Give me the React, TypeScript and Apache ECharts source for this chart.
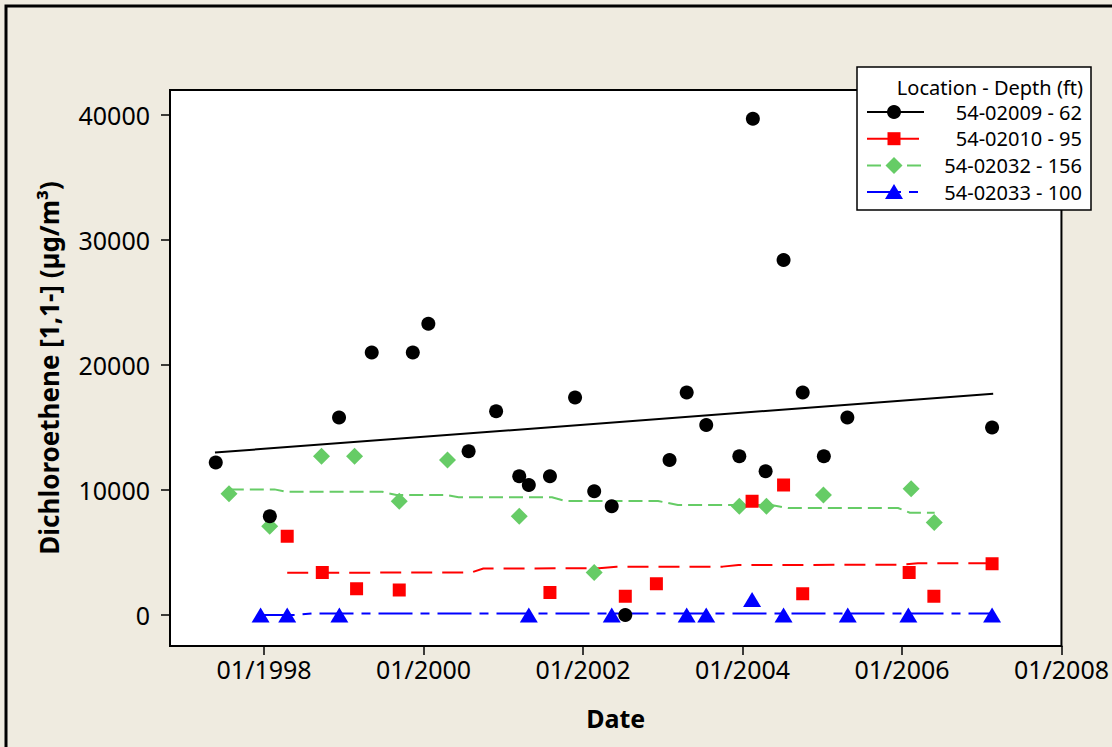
import React, { useEffect, useRef } from "react";
import * as echarts from "echarts";

// ---- Data (dates as decimal years, values in µg/m³) ----
const X_TICKS = [1998, 2000, 2002, 2004, 2006, 2008];
const Y_TICKS = [0, 10000, 20000, 30000, 40000];

const S62_NAME = "54-02009 - 62";
const S62_X = [1997.394, 1998.072, 1998.94, 1999.35, 1999.865, 2000.06, 2000.565, 2000.91, 2001.2, 2001.32, 2001.585, 2001.9, 2002.14, 2002.36, 2002.53, 2003.085, 2003.3, 2003.545, 2003.96, 2004.13, 2004.29, 2004.515, 2004.755, 2005.02, 2005.315, 2007.13];
const S62_Y = [12200, 7900, 15800, 21000, 21000, 23300, 13100, 16300, 11100, 10400, 11100, 17400, 9900, 8700, 0, 12400, 17800, 15200, 12700, 39700, 11500, 28400, 17800, 12700, 15800, 15000];
const S62_FIT_X = [1997.384, 2007.144];
const S62_FIT_Y = [13000, 17700];

const S95_NAME = "54-02010 - 95";
const S95_X = [1998.29, 1998.73, 1999.16, 1999.695, 2001.585, 2002.53, 2002.92, 2004.12, 2004.515, 2004.755, 2006.09, 2006.4, 2007.13];
const S95_Y = [6300, 3400, 2100, 2000, 1800, 1500, 2500, 9100, 10400, 1700, 3400, 1500, 4100];
const S95_FIT_X = [1998.29, 2000.6, 2000.75, 2002.2, 2002.42, 2003.75, 2003.95, 2006.0, 2006.2, 2007.13];
const S95_FIT_Y = [3380, 3400, 3720, 3740, 3860, 3870, 4000, 4020, 4140, 4150];

const S156_NAME = "54-02032 - 156";
const S156_X = [1997.56, 1998.07, 1998.72, 1999.135, 1999.695, 2000.3, 2001.2, 2002.14, 2003.96, 2004.3, 2005.015, 2006.115, 2006.405];
const S156_Y = [9700, 7100, 12700, 12700, 9100, 12400, 7900, 3400, 8700, 8700, 9600, 10100, 7400];
const S156_FIT_X = [1997.57, 1998.13, 1998.28, 1999.48, 1999.66, 2000.28, 2000.44, 2001.61, 2001.78, 2002.94, 2003.19, 2004.36, 2004.57, 2005.95, 2006.1, 2006.41];
const S156_FIT_Y = [10050, 10050, 9860, 9860, 9600, 9600, 9420, 9420, 9120, 9120, 8800, 8800, 8560, 8560, 8180, 8180];

const S100_NAME = "54-02033 - 100";
const S100_X = [1997.956, 1998.29, 1998.944, 2001.32, 2002.36, 2003.3, 2003.545, 2004.12, 2004.515, 2005.32, 2006.08, 2007.13];
const S100_Y = [0, 0, 0, 0, 0, 0, 0, 1250, 0, 0, 0, 0];
const S100_FIT_X = [1997.956, 1998.4, 1998.61, 2007.13];
const S100_FIT_Y = [0, 0, 130, 130];

const zip = (xs: number[], ys: number[]) => xs.map((x, i) => [x, ys[i]]);

const FONT = "Noto Sans";
const BLACK = "#000000";
const RED = "#FF0000";
const GREEN = "#66CC66";
const BLUE = "#0000FF";

const DASH_RED = [21, 10];
const DASH_GREEN = [14, 6];
const DASH_BLUE = [34, 8, 9, 8];

export default function App() {
  const ref = useRef<HTMLDivElement>(null);

  useEffect(() => {
    if (!ref.current) return;
    const chart = echarts.init(ref.current, null, { renderer: "svg" });

    const legendItems = [
      { name: S62_NAME, color: BLACK, dash: "solid" as any, kind: "circle" },
      { name: S95_NAME, color: RED, dash: DASH_RED, kind: "square" },
      { name: S156_NAME, color: GREEN, dash: DASH_GREEN, kind: "diamond" },
      { name: S100_NAME, color: BLUE, dash: DASH_BLUE, kind: "triangle" },
    ];
    const legendGraphics: any[] = [];
    const lx0 = 867, lx1 = 924, sx = 894, textRight = 1082;
    legendItems.forEach((it, i) => {
      const y = 112 + i * 26.7;
      legendGraphics.push({
        type: "line",
        shape: { x1: lx0, y1: y, x2: lx1, y2: y },
        style: { stroke: it.color, lineWidth: 2, lineDash: it.dash === "solid" ? null : it.dash },
        z: 101,
      });
      let sym: any;
      if (it.kind === "circle") {
        sym = { type: "circle", shape: { cx: sx, cy: y, r: 7 } };
      } else if (it.kind === "square") {
        sym = { type: "rect", shape: { x: sx - 6.5, y: y - 6.5, width: 13, height: 13 } };
      } else if (it.kind === "diamond") {
        sym = { type: "polygon", shape: { points: [[sx, y - 8.5], [sx + 8.5, y], [sx, y + 8.5], [sx - 8.5, y]] } };
      } else {
        sym = { type: "polygon", shape: { points: [[sx, y - 8], [sx + 9, y + 7], [sx - 9, y + 7]] } };
      }
      sym.style = { fill: it.color };
      sym.z = 102;
      legendGraphics.push(sym);
      legendGraphics.push({
        type: "text",
        x: textRight,
        y: y,
        style: { text: it.name, fill: "#000", font: `20px "${FONT}"`, align: "right", verticalAlign: "middle" },
        z: 102,
      });
    });

    const option: any = {
      animation: false,
      backgroundColor: "#EFEBE0",
      textStyle: { fontFamily: FONT },
      grid: {
        left: 170,
        top: 90,
        width: 894,
        height: 556,
        show: true,
        backgroundColor: "#FFFFFF",
        borderColor: "#000",
        borderWidth: 2,
        containLabel: false,
      },
      xAxis: {
        type: "value",
        min: 1996.82,
        max: 2008,
        name: "Date",
        nameLocation: "middle",
        nameGap: 59,
        nameTextStyle: { fontFamily: FONT, fontSize: 25, fontWeight: "bold", color: "#000" },
        axisLine: { show: true, onZero: false, lineStyle: { color: "#000", width: 2 } },
        axisTick: { show: true, inside: false, length: 9, customValues: X_TICKS, lineStyle: { color: "#000", width: 1.5 } },
        axisLabel: {
          customValues: X_TICKS,
          margin: 10,
          color: "#000",
          fontFamily: FONT,
          fontSize: 25,
          formatter: (v: number) => "01/" + Math.round(v),
        },
        splitLine: { show: false },
      },
      yAxis: {
        type: "value",
        min: -2480,
        max: 42000,
        name: "Dichloroethene [1,1-] (µg/m³)",
        nameLocation: "middle",
        nameGap: 108,
        nameRotate: 90,
        nameTextStyle: { fontFamily: FONT, fontSize: 26, fontWeight: "bold", color: "#000" },
        axisLine: { show: true, onZero: false, lineStyle: { color: "#000", width: 2 } },
        axisTick: { show: true, inside: false, length: 9, customValues: Y_TICKS, lineStyle: { color: "#000", width: 1.5 } },
        axisLabel: {
          customValues: Y_TICKS,
          margin: 20,
          color: "#000",
          fontFamily: FONT,
          fontSize: 25,
          formatter: (v: number) => String(Math.round(v)),
        },
        splitLine: { show: false },
      },
      series: [
        {
          name: S62_NAME + " fit",
          type: "line",
          data: zip(S62_FIT_X, S62_FIT_Y),
          showSymbol: false,
          lineStyle: { color: BLACK, width: 2, type: "solid" },
          z: 2,
        },
        {
          name: S95_NAME + " fit",
          type: "line",
          data: zip(S95_FIT_X, S95_FIT_Y),
          showSymbol: false,
          lineStyle: { color: RED, width: 2, type: DASH_RED },
          z: 2,
        },
        {
          name: S156_NAME + " fit",
          type: "line",
          data: zip(S156_FIT_X, S156_FIT_Y),
          showSymbol: false,
          lineStyle: { color: GREEN, width: 2, type: DASH_GREEN },
          z: 2,
        },
        {
          name: S100_NAME + " fit",
          type: "line",
          data: zip(S100_FIT_X, S100_FIT_Y),
          showSymbol: false,
          lineStyle: { color: BLUE, width: 2, type: DASH_BLUE },
          z: 2,
        },
        {
          name: S156_NAME,
          type: "scatter",
          data: zip(S156_X, S156_Y),
          symbol: "diamond",
          symbolSize: [17, 17],
          itemStyle: { color: GREEN, opacity: 1 },
          z: 3,
        },
        {
          name: S62_NAME,
          type: "scatter",
          data: zip(S62_X, S62_Y),
          symbol: "circle",
          symbolSize: 14,
          itemStyle: { color: BLACK, opacity: 1 },
          z: 4,
        },
        {
          name: S95_NAME,
          type: "scatter",
          data: zip(S95_X, S95_Y),
          symbol: "rect",
          symbolSize: 13,
          itemStyle: { color: RED, opacity: 1 },
          z: 5,
        },
        {
          name: S100_NAME,
          type: "scatter",
          data: zip(S100_X, S100_Y),
          symbol: "triangle",
          symbolSize: [18, 15],
          itemStyle: { color: BLUE, opacity: 1 },
          z: 6,
        },
      ],
      graphic: [
        {
          type: "rect",
          shape: { x: 6, y: 6, width: 1300, height: 900 },
          style: { fill: null, stroke: "#000", lineWidth: 3 },
          z: 100,
          silent: true,
        },
        {
          type: "rect",
          shape: { x: 857, y: 67, width: 234, height: 143 },
          style: { fill: "#FFFFFF", stroke: "#000", lineWidth: 1.5 },
          z: 100,
        },
        {
          type: "text",
          x: 1083,
          y: 87,
          style: { text: "Location - Depth (ft)", fill: "#000", font: `20px "${FONT}"`, align: "right", verticalAlign: "middle" },
          z: 102,
        },
        ...legendGraphics,
      ],
    };

    chart.setOption(option);
    return () => chart.dispose();
  }, []);

  return (
    <div
      ref={ref}
      style={{ position: "fixed", left: 0, top: 0, width: 1112, height: 747, background: "#EFEBE0" }}
    />
  );
}
